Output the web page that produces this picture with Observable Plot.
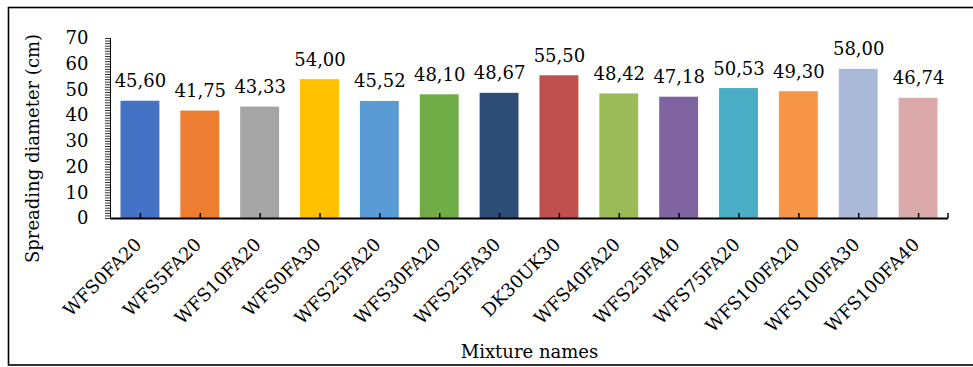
<!DOCTYPE html>
<html>
<head>
<meta charset="utf-8">
<script src="https://cdn.jsdelivr.net/npm/d3@7"></script>
<script src="https://cdn.jsdelivr.net/npm/@observablehq/plot@0.6"></script>
<style>
  html, body { margin: 0; padding: 0; background: #fff; }
  #chart svg { display: block; }
</style>
</head>
<body>
<div id="chart"></div>
<script>
// Mixture names and measured spreading diameters (cm)
const mixtures = [
  "WFS0FA20", "WFS5FA20", "WFS10FA20", "WFS0FA30", "WFS25FA20", "WFS30FA20", "WFS25FA30",
  "DK30UK30", "WFS40FA20", "WFS25FA40", "WFS75FA20", "WFS100FA20", "WFS100FA30", "WFS100FA40"
];
const spread = [45.60, 41.75, 43.33, 54.00, 45.52, 48.10, 48.67, 55.50, 48.42, 47.18, 50.53, 49.30, 58.00, 46.74];
const barColors = [
  "#4472C4", "#ED7D31", "#A5A5A5", "#FFC000", "#5B9BD5", "#70AD47", "#2E4D76",
  "#C0504D", "#9BBB59", "#8064A2", "#4BACC6", "#F79646", "#AAB9D7", "#DBA9A9"
];
const yMajorTicks = [0, 10, 20, 30, 40, 50, 60, 70];
const yMinorTicks = d3.range(0, 71, 1);
const yTitle = "Spreading diameter (cm)";
const xTitle = "Mixture names";

const rows = mixtures.map((name, i) => ({name, value: spread[i], color: barColors[i]}));
const fmt = v => v.toFixed(2).replace(".", ",");
const font = "'DejaVu Serif', serif";
const blank = () => "";

const chart = Plot.plot({
  width: 973,
  height: 367,
  marginLeft: 110,
  marginRight: 25,
  marginTop: 38,
  marginBottom: 149,
  style: {fontFamily: font, fontSize: "18px", color: "#000", background: "#fff"},
  x: {domain: mixtures, paddingInner: 0.35, paddingOuter: 0.175, round: false, label: null},
  y: {domain: [0, 70], label: null},
  marks: [
    Plot.barY(rows, {x: "name", y: "value", fill: "color"}),
    // value labels above bars
    Plot.text(rows, {x: "name", y: "value", text: d => fmt(d.value), lineAnchor: "bottom", dy: -14, fill: "#000", fontSize: 18}),
    // y axis: dense minor ticks plus labels every 10
    Plot.axisY({ticks: yMinorTicks, tickSize: 5, tickFormat: blank, stroke: "#333", strokeWidth: 1}),
    Plot.axisY({ticks: yMajorTicks, tickSize: 0, tickPadding: 22, fill: "#000", fontSize: 18}),
    Plot.frame({anchor: "left", stroke: "#000", strokeWidth: 1}),
    // x axis line, inward ticks and rotated category labels
    Plot.ruleY([0], {stroke: "#000", strokeWidth: 2}),
    Plot.axisX({tickSize: 5, dy: -5, tickFormat: blank, stroke: "#000", strokeWidth: 1.5}),
    Plot.axisX({tickSize: 0, tickPadding: 23, dx: -2, tickRotate: -45, fill: "#000", fontSize: 18}),
    // axis titles
    Plot.text([yTitle], {frameAnchor: "left", textAnchor: "middle", rotate: -90, dx: -77, dy: 20, fill: "#000", fontSize: 18}),
    Plot.text([xTitle], {frameAnchor: "bottom", dy: 139, lineAnchor: "bottom", fill: "#000", fontSize: 18})
  ]
});

// closing tick at the right end of the category axis
const xEnd = chart.scale("x").range[1];
const yZero = chart.scale("y").apply(0);
d3.select(chart).append("line")
  .attr("x1", xEnd).attr("x2", xEnd).attr("y1", yZero - 5).attr("y2", yZero)
  .attr("stroke", "#000").attr("stroke-width", 1.5);

// outer chart border
d3.select(chart).append("rect")
  .attr("x", 8.5).attr("y", 7.5).attr("width", 980).attr("height", 357.5)
  .attr("fill", "none").attr("stroke", "#000").attr("stroke-width", 1.6);

document.getElementById("chart").append(chart);
</script>
</body>
</html>
